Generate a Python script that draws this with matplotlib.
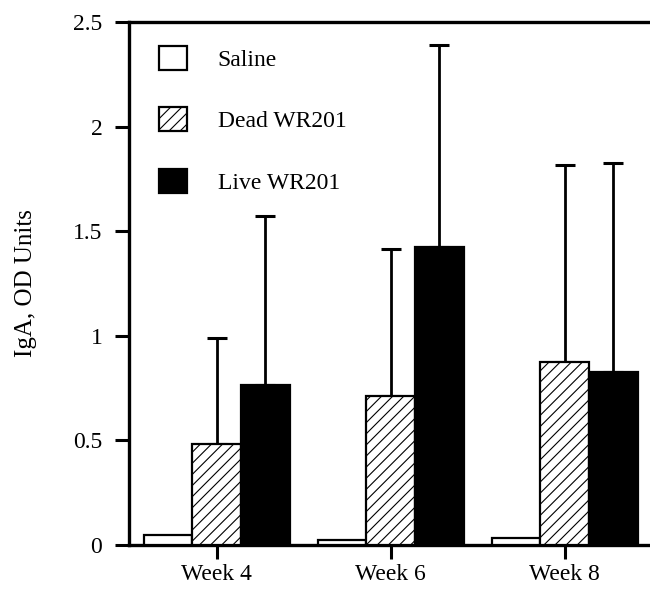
import matplotlib
matplotlib.use("Agg")
import matplotlib.pyplot as plt
import numpy as np

plt.rcParams["font.family"] = ["Liberation Serif", "DejaVu Serif"]
plt.rcParams["hatch.linewidth"] = 0.8

weeks = ["Week 4", "Week 6", "Week 8"]
groups = ["Saline", "Dead WR201", "Live WR201"]
saline = [0.047, 0.023, 0.032]
dead = [0.483, 0.71, 0.874]
live = [0.763, 1.426, 0.825]
# top of the error bar (only drawn upwards)
dead_top = [0.989, 1.415, 1.816]
live_top = [1.574, 2.392, 1.827]

fig = plt.figure(figsize=(6.5, 5.89), dpi=100)
ax = fig.add_axes([0.198, 0.0747, 0.802, 0.888])

x = np.arange(len(weeks))
w = 0.28

ax.bar(x - w, saline, w, color="white", edgecolor="black", linewidth=1.6,
       label=groups[0], zorder=3)
ax.bar(x, dead, w, color="white", edgecolor="black", linewidth=1.6,
       hatch="///", label=groups[1], zorder=3)
ax.bar(x + w, live, w, color="black", edgecolor="black", linewidth=1.6,
       label=groups[2], zorder=3)

err_dead = np.array(dead_top) - np.array(dead)
err_live = np.array(live_top) - np.array(live)
ax.errorbar(x, dead, yerr=[np.zeros(3), err_dead], fmt="none",
            ecolor="black", elinewidth=2, capsize=7, capthick=2.2, zorder=2)
ax.errorbar(x + w, live, yerr=[np.zeros(3), err_live], fmt="none",
            ecolor="black", elinewidth=2, capsize=7, capthick=2.2, zorder=2)

ax.set_xlim(-0.506, 2.49)
ax.set_ylim(0, 2.5)
ax.set_xticks(x)
ax.set_xticklabels(weeks)
ax.set_yticks([0, 0.5, 1, 1.5, 2, 2.5])
ax.set_yticklabels(["0", "0.5", "1", "1.5", "2", "2.5"])
ax.tick_params(direction="out", length=10, width=2.2, labelsize=17)
ax.tick_params(axis="y", pad=9)
ax.tick_params(axis="x", pad=4)
ax.set_ylabel("IgA, OD Units", fontsize=18, labelpad=26)

for side in ["left", "bottom", "top"]:
    ax.spines[side].set_linewidth(2.4)
ax.spines["right"].set_visible(False)

ax.legend(loc="upper left", bbox_to_anchor=(0.0576, 0.955), frameon=False,
          fontsize=17, handlelength=1.2, handleheight=1.2,
          handletextpad=1.3, labelspacing=1.55, borderpad=0, borderaxespad=0)

fig.savefig("out.png", dpi=100)
